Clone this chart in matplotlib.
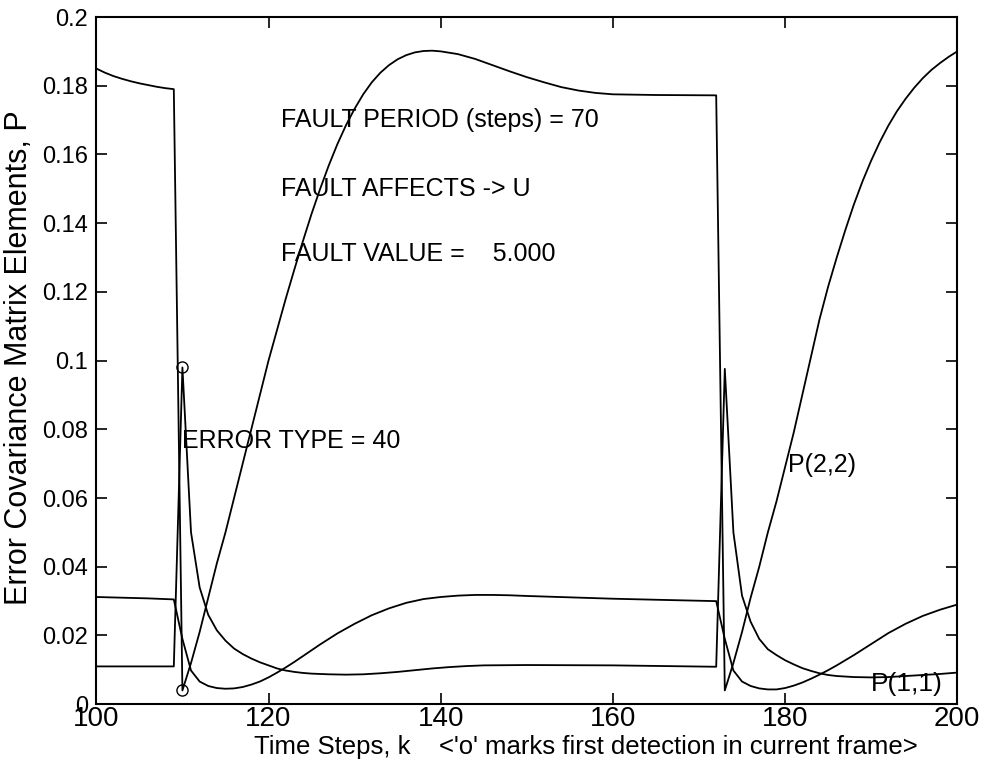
import matplotlib
matplotlib.use("Agg")
import matplotlib.pyplot as plt

plt.rcParams['font.family'] = ['Liberation Sans', 'DejaVu Sans']

# P(2,2)
k22 = [100, 101, 102, 103, 104, 105, 106, 107, 108, 109, 110, 111, 112, 113, 114,
       115, 116, 117, 118, 119, 120, 121, 122, 123, 124, 125, 126, 127, 128, 129,
       130, 131, 132, 133, 134, 135, 136, 137, 138, 139, 140, 142, 144, 146, 148,
       150, 152, 154, 156, 158, 160, 165, 172, 173, 174, 175, 176, 177, 178, 179,
       180, 181, 182, 183, 184, 185, 186, 187, 188, 189, 190, 191, 192, 193, 194,
       195, 196, 197, 198, 199, 200]
p22 = [0.185, 0.1838, 0.1828, 0.182, 0.1813, 0.1807, 0.1802, 0.1797, 0.1793, 0.179,
       0.004, 0.012, 0.021, 0.031, 0.041, 0.050, 0.060, 0.070, 0.080, 0.090, 0.100,
       0.109, 0.118, 0.1265, 0.1348, 0.1427, 0.150, 0.1568, 0.163, 0.1685, 0.1733,
       0.1775, 0.181, 0.1838, 0.186, 0.1877, 0.1889, 0.1897, 0.1901, 0.1902, 0.190,
       0.1892, 0.1878, 0.186, 0.1842, 0.1825, 0.181, 0.1796, 0.1786, 0.1779, 0.1775,
       0.1773, 0.1772, 0.004, 0.012, 0.021, 0.031, 0.040, 0.050, 0.059, 0.069, 0.079,
       0.090, 0.101, 0.112, 0.1215, 0.130, 0.138, 0.1455, 0.1522, 0.1582, 0.1636,
       0.1684, 0.1726, 0.1762, 0.1794, 0.1822, 0.1846, 0.1866, 0.1884, 0.190]

# off-diagonal element (unlabelled)
k12 = [100, 103, 106, 109, 110, 111, 112, 113, 114, 115, 116, 117, 118, 119, 120,
       121, 122, 123, 124, 125, 126, 127, 128, 129, 130, 132, 134, 136, 138, 140,
       142, 144, 146, 148, 150, 155, 160, 165, 172, 173, 174, 175, 176, 177, 178,
       179, 180, 181, 182, 183, 184, 185, 186, 188, 190, 192, 194, 196, 198, 200]
p12 = [0.0312, 0.031, 0.0308, 0.0305, 0.019, 0.0098, 0.0066, 0.0053, 0.0047, 0.0045,
       0.0046, 0.005, 0.0057, 0.0066, 0.0078, 0.0092, 0.0107, 0.0123, 0.014, 0.0157,
       0.0174, 0.019, 0.0206, 0.022, 0.0234, 0.0259, 0.0279, 0.0295, 0.0306, 0.0312,
       0.0316, 0.0318, 0.0318, 0.0317, 0.0315, 0.0311, 0.0307, 0.0304, 0.0300, 0.019,
       0.0098, 0.0066, 0.0053, 0.0046, 0.0043, 0.0043, 0.0047, 0.0054, 0.0063, 0.0074,
       0.0086, 0.0099, 0.0113, 0.0143, 0.0175, 0.0207, 0.0234, 0.0257, 0.0275, 0.029]

# P(1,1)
k11 = [100, 103, 106, 109, 110, 111, 112, 113, 114, 115, 116, 117, 118, 119, 120,
       121, 122, 123, 124, 125, 127, 129, 131, 133, 135, 137, 139, 141, 143, 145,
       150, 160, 172, 173, 174, 175, 176, 177, 178, 179, 180, 181, 182, 183, 184,
       185, 186, 188, 190, 192, 194, 196, 198, 200]
p11 = [0.011, 0.011, 0.011, 0.011, 0.098, 0.050, 0.034, 0.026, 0.0215, 0.0185, 0.0162,
       0.0146, 0.0133, 0.0122, 0.0113, 0.0104, 0.0098, 0.0094, 0.0091, 0.0089, 0.0087,
       0.0086, 0.0087, 0.009, 0.0094, 0.0099, 0.0104, 0.0108, 0.0111, 0.0113, 0.0114,
       0.0113, 0.0109, 0.0976, 0.050, 0.0316, 0.024, 0.019, 0.016, 0.0143, 0.0128,
       0.0116, 0.0105, 0.0097, 0.009, 0.0085, 0.0082, 0.0079, 0.0078, 0.0079, 0.0082,
       0.0085, 0.0088, 0.0092]

# first detection marks
det_k = [110, 110]
det_p = [0.098, 0.004]

fig = plt.figure(figsize=(9.93, 7.73), dpi=100)
ax = fig.add_axes([0.097, 0.089, 0.867, 0.889])

ax.plot(k22, p22, color='black', lw=1.3)
ax.plot(k12, p12, color='black', lw=1.3)
ax.plot(k11, p11, color='black', lw=1.3)
ax.plot(det_k, det_p, 'o', mfc='none', mec='black', ms=8, mew=1.0)

ax.set_xlim(100, 200)
ax.set_ylim(0, 0.2)
ax.set_xticks([100, 120, 140, 160, 180, 200])
ax.set_yticks([0, 0.02, 0.04, 0.06, 0.08, 0.1, 0.12, 0.14, 0.16, 0.18, 0.2])
ax.set_yticklabels(['0', '0.02', '0.04', '0.06', '0.08', '0.1', '0.12', '0.14',
                    '0.16', '0.18', '0.2'])
ax.tick_params(direction='in', top=True, right=True, length=8, width=1.2)
ax.tick_params(axis='x', labelsize=20, pad=1)
ax.tick_params(axis='y', labelsize=17, pad=6)
for s in ax.spines.values():
    s.set_linewidth(1.5)

ax.text(121.5, 0.170, 'FAULT PERIOD (steps) = 70', fontsize=18, va='center')
ax.text(121.5, 0.150, 'FAULT AFFECTS -> U', fontsize=18, va='center')
ax.text(121.5, 0.131, 'FAULT VALUE =    5.000', fontsize=18, va='center')
ax.text(110.0, 0.0765, 'ERROR TYPE = 40', fontsize=18, va='center')
ax.text(180.3, 0.0695, 'P(2,2)', fontsize=18, va='center')
ax.text(190.0, 0.0058, 'P(1,1)', fontsize=19, va='center')

ax.set_xlabel("Time Steps, k    <'o' marks first detection in current frame>",
              fontsize=18.5)
ax.xaxis.set_label_coords(0.569, -0.045)
ax.set_ylabel('Error Covariance Matrix Elements, P', fontsize=22)
ax.yaxis.set_label_coords(-0.072, 0.504)

fig.savefig('out.png', dpi=100)
